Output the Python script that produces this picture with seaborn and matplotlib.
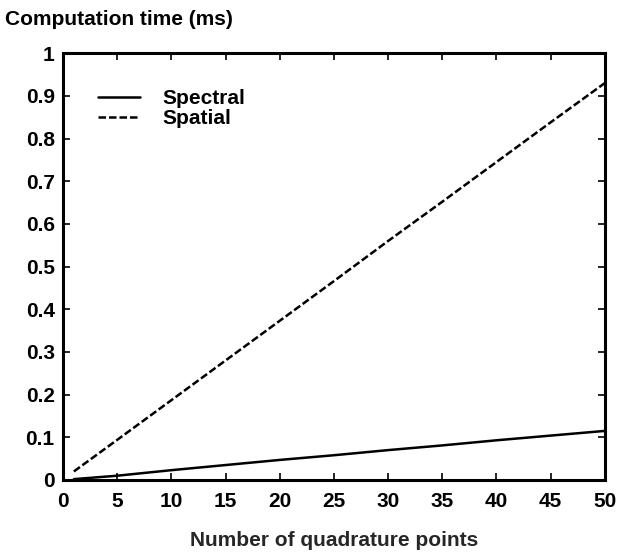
import numpy as np
import pandas as pd
import seaborn as sns
import matplotlib.pyplot as plt

# 讀圖估計的數值
n_points = [1, 5, 10, 15, 20, 25, 30, 35, 40, 45, 50]
spatial_ms = [0.020, 0.094, 0.187, 0.280, 0.373, 0.466, 0.560, 0.652, 0.745, 0.838, 0.930]
spectral_ms = [0.002, 0.010, 0.023, 0.035, 0.047, 0.058, 0.070, 0.081, 0.093, 0.104, 0.115]

sns.set_style("ticks")
plt.rcParams['font.family'] = ['Liberation Sans', 'DejaVu Sans']
plt.rcParams['font.weight'] = 'bold'
plt.rcParams['text.color'] = 'black'
plt.rcParams['axes.edgecolor'] = 'black'
plt.rcParams['xtick.color'] = 'black'
plt.rcParams['ytick.color'] = 'black'

df = pd.DataFrame({
    'N': n_points * 2,
    'time': spectral_ms + spatial_ms,
    'method': ['Spectral'] * len(n_points) + ['Spatial'] * len(n_points),
})

fig = plt.figure(figsize=(6.34, 5.54), dpi=100)
ax = fig.add_axes([0.0994, 0.1336, 0.8546, 0.7704])

sns.lineplot(data=df, x='N', y='time', style='method', color='black',
             dashes={'Spectral': '', 'Spatial': (3, 1.2)}, linewidth=1.8, ax=ax)

ax.set_xlim(0, 50)
ax.set_ylim(0, 1)
ax.set_xticks(np.arange(0, 51, 5))
ax.set_yticks(np.round(np.arange(0, 1.01, 0.1), 1))
ax.set_yticklabels(['0', '0.1', '0.2', '0.3', '0.4', '0.5', '0.6', '0.7', '0.8', '0.9', '1'])
ax.tick_params(direction='in', top=True, right=True, length=5, width=1.2,
               labelsize=15)
ax.tick_params(axis='y', pad=6)
ax.tick_params(axis='x', pad=9)
for lab in ax.get_xticklabels() + ax.get_yticklabels():
    lab.set_fontweight('bold')
for s in ax.spines.values():
    s.set_linewidth(2.2)

ax.set_xlabel('Number of quadrature points', fontsize=15, fontweight='bold', labelpad=14)
ax.set_ylabel('')
fig.text(0.008, 0.965, 'Computation time (ms)', fontsize=15, fontweight='bold',
         ha='left', va='center')

ax.legend(loc='upper left', bbox_to_anchor=(0.03, 0.96), frameon=False,
          handlelength=2.0, handletextpad=1.1, labelspacing=0.05,
          prop={'weight': 'bold', 'size': 15})

fig.savefig('out.png', dpi=100)
